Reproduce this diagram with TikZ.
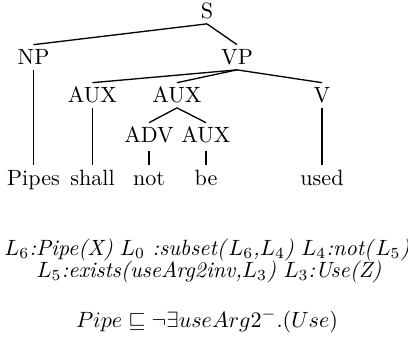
\documentclass[tikz,border=0pt]{standalone}
\usepackage{amsmath,amssymb}
\usetikzlibrary{calc}

\begin{document}
\begin{tikzpicture}[x=0.4525pt, y=-0.4525pt,
		cat/.style={anchor=base, inner sep=0pt, text height=9pt, text depth=2pt},
		word/.style={anchor=base, inner sep=0pt, text height=9pt, text depth=2pt},
		formula/.style={anchor=base, inner sep=0pt},
		link/.style={draw, semithick}]
		\useasboundingbox (0,0) rectangle (408,348);
		% Nodes
		\node [cat] (s) at (207,19) {S};
		\node [cat] (np) at (33.5,65) {NP};
		\node [cat] (vp) at (237,65) {VP};
		\node [cat] (aux1) at (92.5,103) {AUX};
		\node [cat] (aux2) at (177,103) {AUX};
		\node [cat] (v) at (322,103) {V};
		\node [cat] (adv) at (149,143) {ADV};
		\node [cat] (aux3) at (206,143) {AUX};
		\node [word] (pipes) at (33.5,185) {Pipes};
		\node [word] (shall) at (92.5,185) {shall};
		\node [word] (not) at (149,185) {not};
		\node [word] (be) at (206,185) {be};
		\node [word] (used) at (322,185) {used};

		% Paths
		\path [link] (s.south) -- (np.north);
		\path [link] (s.south) -- (vp.north);
		\path [link] (np.south) -- (pipes.north);
		\path [link] (vp.south) -- (aux1.north);
		\path [link] (vp.south) -- (aux2.north);
		\path [link] (vp.south) -- (v.north);
		\path [link] (aux1.south) -- (shall.north);
		\path [link] (aux2.south) -- (adv.north);
		\path [link] (aux2.south) -- (aux3.north);
		\path [link] ([yshift=-1.5pt]adv.south) -- (not.north);
		\path [link] ([yshift=-1.5pt]aux3.south) -- (be.north);
		\path [link] (v.south) -- (used.north);

		% Formulas
		\node [formula] (lineA) at (207,255) {$L_6$\textit{:Pipe(X)} $L_0$ \textit{:subset(}$L_6$\textit{,}$L_4$\textit{\/)} $L_4$\textit{:not(}$L_5$\textit{)}};
		\node [formula] (lineB) at (209,277) {$L_5$\textit{:exists(useArg2inv,}$L_3$\textit{\/)} $L_3$\textit{:Use(Z)}};
		\node [formula] (lineC) at (207,327) {$Pipe \sqsubseteq \neg\exists useArg2^{-}.(Use)$};
	\end{tikzpicture}
\end{document}
